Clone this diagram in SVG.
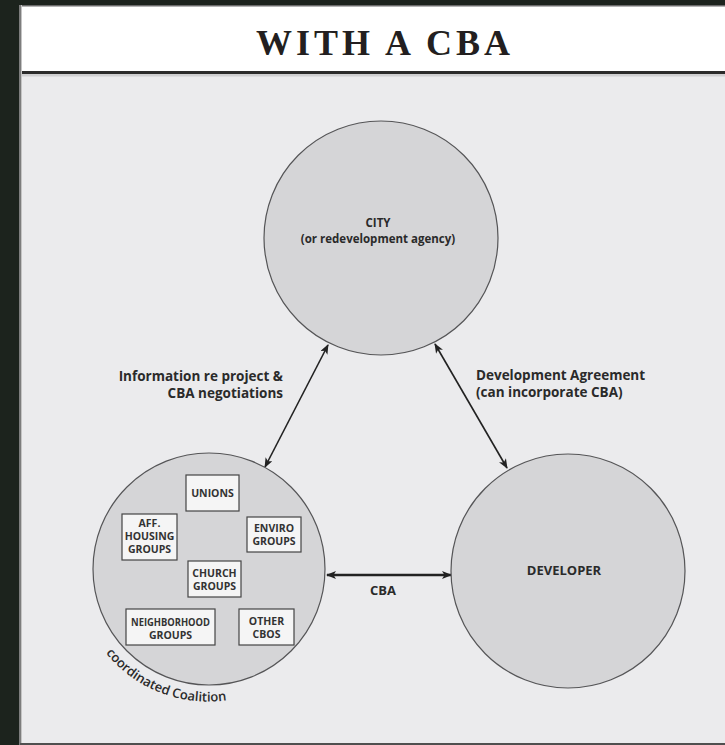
<svg xmlns="http://www.w3.org/2000/svg" width="725" height="745" viewBox="0 0 725 745">
<defs>
<style>
.node{fill:#d5d5d7;stroke:#555557;stroke-width:1.2}
.box{fill:#f5f5f5;stroke:#444;stroke-width:1.2}
.lbl{font-family:"Open Sans","Noto Sans",sans-serif;font-weight:700;fill:#2a2a2a}
.bx{font-family:"Open Sans","Noto Sans",sans-serif;font-weight:700;fill:#333;font-size:10.5px;text-anchor:middle}
.conn{stroke:#222;stroke-width:1.6;fill:none;marker-start:url(#ah);marker-end:url(#ah)}
</style>
<marker id="ah" viewBox="0 0 10 8" refX="9" refY="4" markerWidth="10" markerHeight="8" markerUnits="userSpaceOnUse" orient="auto-start-reverse">
<path d="M0,0 L10,4 L0,8 L2.5,4 z" fill="#222"/>
</marker>
</defs>
<rect width="725" height="745" fill="#1c231d"/>
<rect x="20" y="5" width="705" height="740" fill="#ebebed"/>
<rect x="20" y="6" width="705" height="65" fill="#ffffff"/>
<rect x="20" y="5" width="705" height="1.5" fill="#6a6a6a"/>
<rect x="20" y="71" width="705" height="3" fill="#2b2b2b"/>
<rect x="20" y="74" width="705" height="2.5" fill="#cfcfd1"/>
<rect x="19" y="5" width="2" height="740" fill="#7d7d7d"/>
<rect x="21" y="5" width="1" height="740" fill="#c4c4c4"/>
<rect x="20" y="743" width="705" height="2" fill="#4f4f4f"/>
<text x="256" y="55" font-family="Liberation Serif,serif" font-weight="700" font-size="36" fill="#231f20" textLength="254" lengthAdjust="spacing">WITH A CBA</text>

<g id="connectors">
<line class="conn" x1="328" y1="345" x2="265" y2="467"/>
<line class="conn" x1="435" y1="344" x2="507" y2="468"/>
<line class="conn" style="stroke-width:2.4" x1="327" y1="575" x2="451" y2="575"/>
<text class="lbl" x="283" y="381" font-size="13.5" text-anchor="end">Information re project &amp;</text>
<text class="lbl" x="283" y="398" font-size="13.5" text-anchor="end">CBA negotiations</text>
<text class="lbl" x="476" y="380" font-size="13.5">Development Agreement</text>
<text class="lbl" x="476" y="397" font-size="13.5">(can incorporate CBA)</text>
<text class="lbl" x="383" y="595" font-size="13" text-anchor="middle">CBA</text>
</g>

<g id="city">
<circle class="node" cx="381" cy="238" r="117"/>
<text class="lbl" x="378" y="227" font-size="11.5" text-anchor="middle">CITY</text>
<text class="lbl" x="378" y="243" font-size="11.5" text-anchor="middle">(or redevelopment agency)</text>
</g>

<g id="developer">
<circle class="node" cx="568" cy="571" r="117"/>
<text class="lbl" x="564" y="575" font-size="13" text-anchor="middle">DEVELOPER</text>
</g>

<g id="coalition">
<circle class="node" cx="209" cy="569" r="116"/>
<path id="arcp" d="M100.9,646.7 A132,132 0 0 0 275,683.3" fill="none"/>
<text font-family="Open Sans,Noto Sans,sans-serif" font-size="13" font-weight="600" fill="#2a2a2a"><textPath href="#arcp" startOffset="8">coordinated Coalition</textPath></text>
</g>

<g id="unions">
<rect class="box" x="186" y="475" width="53" height="36"/>
<text class="bx" x="212.5" y="497">UNIONS</text>
</g>
<g id="aff-housing">
<rect class="box" x="122" y="514" width="55" height="46"/>
<text class="bx" x="149.5" y="527">AFF.</text>
<text class="bx" x="149.5" y="540">HOUSING</text>
<text class="bx" x="149.5" y="553">GROUPS</text>
</g>
<g id="enviro">
<rect class="box" x="247" y="517" width="54" height="35"/>
<text class="bx" x="274" y="531.5">ENVIRO</text>
<text class="bx" x="274" y="544.5">GROUPS</text>
</g>
<g id="church">
<rect class="box" x="188" y="561" width="53" height="36"/>
<text class="bx" x="214.5" y="576.5">CHURCH</text>
<text class="bx" x="214.5" y="589.5">GROUPS</text>
</g>
<g id="neighborhood">
<rect class="box" x="126" y="609" width="89" height="36"/>
<text class="bx" x="170.5" y="626" textLength="79" lengthAdjust="spacingAndGlyphs">NEIGHBORHOOD</text>
<text class="bx" x="170.5" y="638.5">GROUPS</text>
</g>
<g id="other">
<rect class="box" x="239" y="609" width="55" height="36"/>
<text class="bx" x="266.5" y="624.5">OTHER</text>
<text class="bx" x="266.5" y="637.5">CBOS</text>
</g>
</svg>
